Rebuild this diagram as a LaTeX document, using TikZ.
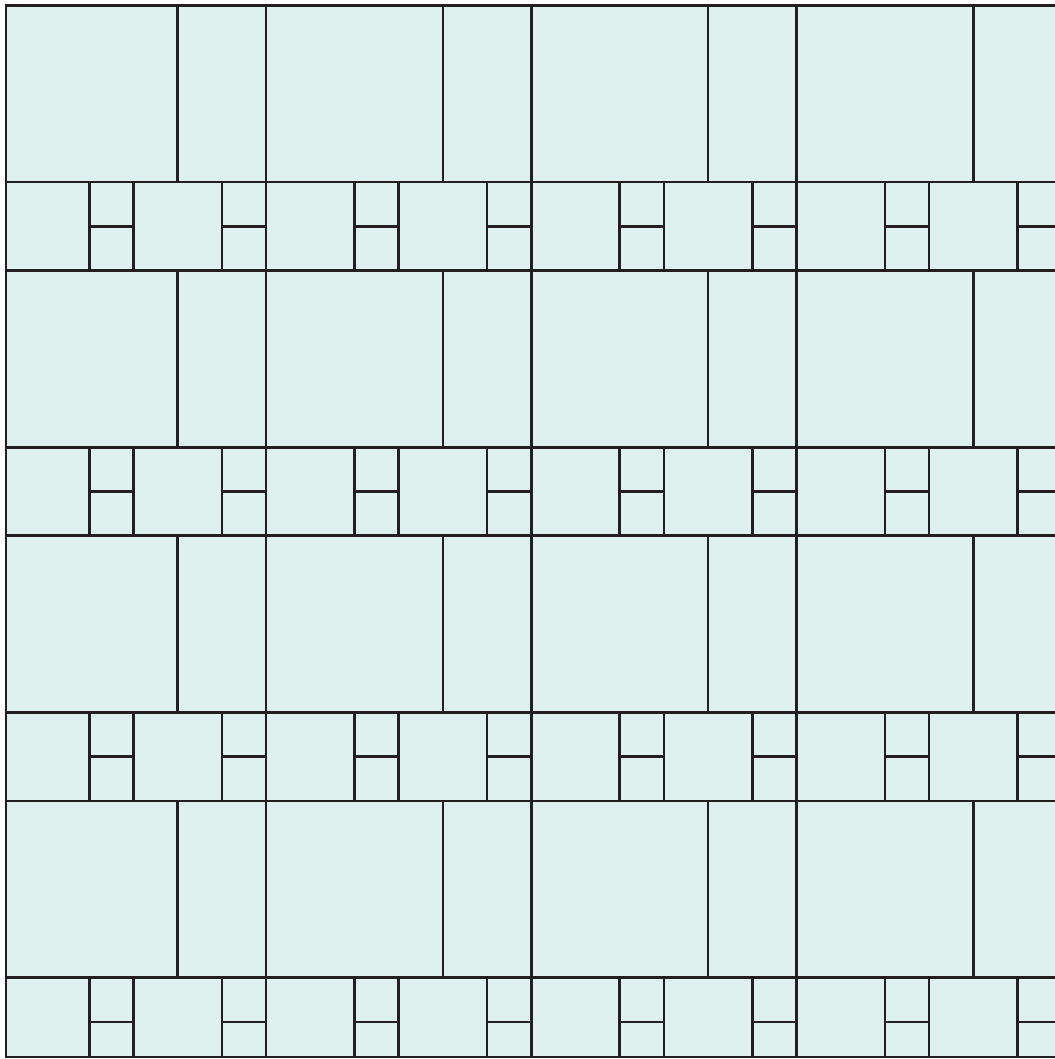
\documentclass[tikz,border=0pt]{standalone}
\usepackage{tikz}
\definecolor{tilefill}{RGB}{223,241,239}
\definecolor{tileline}{RGB}{35,31,32}

\begin{document}
\begin{tikzpicture}[x=1bp,y=-1bp,
  tile/.style={fill=tilefill,draw=tileline,line width=2.5bp},
  frame/.style={draw=tileline,line width=2.5bp}]
\useasboundingbox (0,0) rectangle (1055,1059);
\def\a{44.2}
\begin{scope}
\clip (6,5.3) rectangle (1062,1057);
\foreach \i in {0,...,3}{
  \foreach \j in {0,...,3}{
    \begin{scope}[shift={(0.9+6*\a*\i,5.3+6*\a*\j)}]
      % big square and tall strip
      \draw[tile] (0,0) rectangle (4*\a,4*\a);
      \draw[tile] (4*\a,0) rectangle (6*\a,4*\a);
      % low band
      \draw[tile] (0,4*\a) rectangle (2*\a,6*\a);
      \draw[tile] (3*\a,4*\a) rectangle (5*\a,6*\a);
      \foreach \k in {2,5}{
        \draw[tile] (\k*\a,4*\a) rectangle ++(\a,\a);
        \draw[tile] (\k*\a,5*\a) rectangle ++(\a,\a);
      }
    \end{scope}
  }
}
\end{scope}
\draw[frame] (1062,5.3) -- (6,5.3) -- (6,1057) -- (1062,1057);
\end{tikzpicture}
\end{document}
